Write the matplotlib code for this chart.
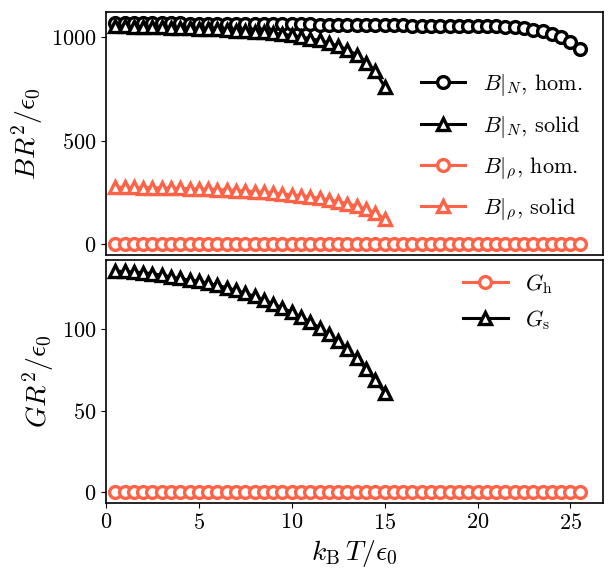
import numpy as np
import matplotlib
matplotlib.use("Agg")
import matplotlib.pyplot as plt

plt.rcParams['font.family'] = 'serif'
plt.rcParams['font.serif'] = ['cmr10']
plt.rcParams['mathtext.fontset'] = 'cm'
plt.rcParams['axes.formatter.use_mathtext'] = True
plt.rcParams['font.size'] = 16
plt.rcParams['axes.labelsize'] = 20
plt.rcParams['legend.fontsize'] = 16
plt.rcParams['axes.linewidth'] = 1.2

# temperatures k_B T / eps_0
T_hom = [0.5, 1.0, 1.5, 2.0, 2.5, 3.0, 3.5, 4.0, 4.5, 5.0,
         5.5, 6.0, 6.5, 7.0, 7.5, 8.0, 8.5, 9.0, 9.5, 10.0,
         10.5, 11.0, 11.5, 12.0, 12.5, 13.0, 13.5, 14.0, 14.5, 15.0,
         15.5, 16.0, 16.5, 17.0, 17.5, 18.0, 18.5, 19.0, 19.5, 20.0,
         20.5, 21.0, 21.5, 22.0, 22.5, 23.0, 23.5, 24.0, 24.5, 25.0, 25.5]
T_sol = [0.5, 1.0, 1.5, 2.0, 2.5, 3.0, 3.5, 4.0, 4.5, 5.0,
         5.5, 6.0, 6.5, 7.0, 7.5, 8.0, 8.5, 9.0, 9.5, 10.0,
         10.5, 11.0, 11.5, 12.0, 12.5, 13.0, 13.5, 14.0, 14.5, 15.0]

# bulk modulus, homogeneous (fixed N)
BN_hom = [1068, 1068, 1068, 1068, 1067, 1067, 1067, 1067, 1066, 1066,
          1066, 1066, 1065, 1065, 1065, 1065, 1064, 1064, 1064, 1063,
          1063, 1063, 1062, 1062, 1061, 1061, 1060, 1060, 1059, 1059,
          1058, 1058, 1057, 1057, 1056, 1056, 1055, 1055, 1054, 1054,
          1053, 1053, 1051, 1048, 1043, 1037, 1029, 1016, 1000, 977, 945]
# bulk modulus, solid (fixed N)
BN_sol = [1053, 1053, 1052, 1051, 1050, 1049, 1047, 1046, 1044, 1042,
          1040, 1038, 1036, 1033, 1031, 1028, 1025, 1020, 1015, 1009,
          1002, 994, 985, 972, 958, 940, 915, 878, 835, 762]
# bulk modulus at fixed rho
Brho_hom = [0] * 51
Brho_sol = [275, 275, 274.5, 274, 273, 272, 271, 270, 269, 267.5,
            266, 264, 262, 259.5, 257, 254, 251, 247.5, 243.5, 239,
            234, 228.5, 222, 214.5, 206, 196, 184, 169, 151, 123]
# shear modulus
G_hom = [0] * 51
G_sol = [135.5, 135.3, 135, 134.5, 134, 133, 132, 131, 130, 129.5,
         128, 126.8, 125.3, 123.8, 122, 120, 117.8, 115.5, 113, 110.3,
         107.5, 104.3, 100.8, 96.8, 92.5, 87.5, 82, 75.5, 68.5, 61]

red = '#ff6347'
mk = dict(markersize=8.5, markeredgewidth=2.4, markerfacecolor='white', linewidth=2.2)

fig, (ax1, ax2) = plt.subplots(2, 1, sharex=True, figsize=(6.09, 5.83), dpi=100)
fig.subplots_adjust(left=0.174, right=0.99, top=0.979, bottom=0.137, hspace=0.02)

ax1.plot(T_hom, BN_hom, 'o-', color='black', label=r'$B|_N$, hom.', **mk)
ax1.plot(T_sol, BN_sol, '^-', color='black', label=r'$B|_N$, solid', **mk)
ax1.plot(T_hom, Brho_hom, 'o-', color=red, label=r'$B|_\rho$, hom.', **mk)
ax1.plot(T_sol, Brho_sol, '^-', color=red, label=r'$B|_\rho$, solid', **mk)
ax1.set_ylabel(r'$BR^2/\epsilon_0$')
ax1.set_yticks([0, 500, 1000])
ax1.legend(loc='center right', bbox_to_anchor=(1.0, 0.445), frameon=False,
           handlelength=2.0, labelspacing=0.7)

ax2.plot(T_hom, G_hom, 'o-', color=red, label=r'$G_\mathrm{h}$', **mk)
ax2.plot(T_sol, G_sol, '^-', color='black', label=r'$G_\mathrm{s}$', **mk)
ax2.set_ylabel(r'$GR^2/\epsilon_0$')
ax2.set_yticks([0, 50, 100])
ax2.set_xlabel(r'$k_\mathrm{B}\,T/\epsilon_0$')
ax2.legend(loc='upper right', bbox_to_anchor=(0.94, 1.033), frameon=False,
           handlelength=2.0, labelspacing=0.55)

ax2.set_xlim(left=0)
ax1.tick_params(axis='x', bottom=False)

fig.savefig('out.png', dpi=100)
